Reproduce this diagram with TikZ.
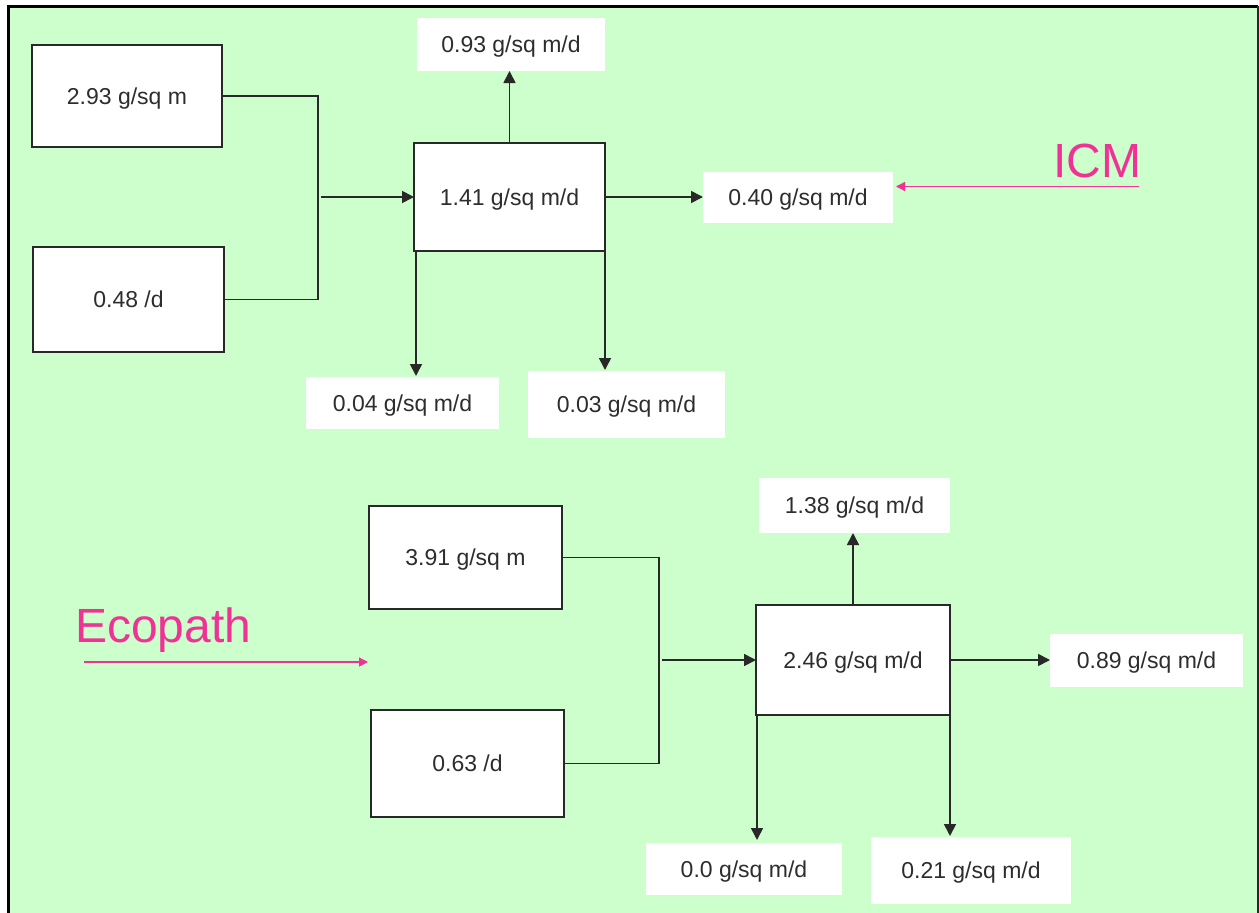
\documentclass[tikz,border=0pt]{standalone}
\usepackage{fontspec}
\setmainfont{Liberation Sans}
\usetikzlibrary{arrows.meta}
\definecolor{bg}{RGB}{204,255,204}
\definecolor{pinkc}{RGB}{240,50,150}
\definecolor{linec}{RGB}{40,40,40}
\definecolor{textc}{RGB}{45,45,45}
\begin{document}
\begin{tikzpicture}[x=1pt,y=-1pt,
  box/.style={draw=linec, line width=1.3pt, fill=white, inner sep=0pt, outer sep=0pt,
    font=\fontsize{23}{27}\selectfont, text=textc, text height=16.5pt, text depth=0pt},
  outbox/.style={box, draw=none},
  link/.style={draw=linec, line width=1.7pt},
  arr/.style={link, -{Triangle[length=12pt,width=12pt]}},
  parr/.style={draw=pinkc, line width=1.3pt, -{Triangle[length=9pt,width=9pt]}},
  lbl/.style={text=pinkc, font=\fontsize{48}{50}\selectfont, inner sep=0pt}
]
\useasboundingbox (0,0) rectangle (1259,913);
\fill[white] (0,0) rectangle (1259,913);
\fill[bg] (8,6) rectangle (1258,913);
\draw[black, line width=3pt] (8,913) -- (8,6) -- (1258,6);
\draw[linec, line width=1.3pt] (1258,6) -- (1258,913);

% ICM part
\node[box, minimum width=190pt, minimum height=102pt] (a1) at (127,96) {2.93 g/sq m};
\node[box, minimum width=191pt, minimum height=105pt] (a2) at (128.5,299.5) {0.48 /d};
\node[box, minimum width=191pt, minimum height=108pt] (c1) at (509.5,197) {1.41 g/sq m/d};
\node[outbox, minimum width=188pt, minimum height=53pt] (o1) at (511,44.5) {0.93 g/sq m/d};
\node[outbox, minimum width=190pt, minimum height=51pt] (o2) at (798,197.5) {0.40 g/sq m/d};
\node[outbox, minimum width=193pt, minimum height=52pt] (o3) at (402.5,403) {0.04 g/sq m/d};
\node[outbox, minimum width=197pt, minimum height=67pt] (o4) at (626.5,404.5) {0.03 g/sq m/d};
\coordinate (j1) at (318,197);
\draw[link] (a1.east) -| (j1) |- (a2.east);
\draw[arr] ([xshift=3pt]j1) -- (c1.west);
\draw[arr] (c1.north) -- (c1.north |- o1.south);
\draw[arr] (c1.east) -- (c1.east -| o2.west);
\draw[arr] ([xshift=2pt]c1.south west) -- ([xshift=2pt,yshift=1pt]c1.south west |- o3.north);
\draw[arr] (c1.south east) -- ([yshift=1pt]c1.south east |- o4.north);
\node[lbl, anchor=base west] (icm) at (1053,177) {ICM};
\coordinate (icms) at (1139,186.5);
\draw[parr] (icms) -- ([xshift=3pt]icms -| o2.east);

% Ecopath part
\node[box, minimum width=193pt, minimum height=103pt] (b1) at (465.5,557.5) {3.91 g/sq m};
\node[box, minimum width=193pt, minimum height=107pt] (b2) at (467.5,763.5) {0.63 /d};
\node[box, minimum width=194pt, minimum height=110pt] (d1) at (853,660) {2.46 g/sq m/d};
\node[outbox, minimum width=191pt, minimum height=55pt] (p1) at (854.5,505.5) {1.38 g/sq m/d};
\node[outbox, minimum width=193pt, minimum height=53pt] (p2) at (1146.5,660.5) {0.89 g/sq m/d};
\node[outbox, minimum width=196pt, minimum height=52pt] (p3) at (744,869) {0.0 g/sq m/d};
\node[outbox, minimum width=200pt, minimum height=67pt] (p4) at (971,870.5) {0.21 g/sq m/d};
\coordinate (j2) at (659,660);
\draw[link] (b1.east) -| (j2) |- (b2.east);
\draw[arr] ([xshift=3pt]j2) -- (d1.west);
\draw[arr] (d1.north) -- (d1.north |- p1.south);
\draw[arr] (d1.east) -- (d1.east -| p2.west);
\draw[arr] ([xshift=1pt]d1.south west) -- ([xshift=1pt,yshift=3pt]d1.south west |- p3.north);
\draw[arr] (d1.south east) -- ([yshift=1pt]d1.south east |- p4.north);
\node[lbl, anchor=base west] (eco) at (75,642) {Ecopath};
\coordinate (ecos) at (84,662);
\coordinate (ecoe) at (368,662);
\draw[parr] (ecos) -- (ecoe);
\end{tikzpicture}
\end{document}
